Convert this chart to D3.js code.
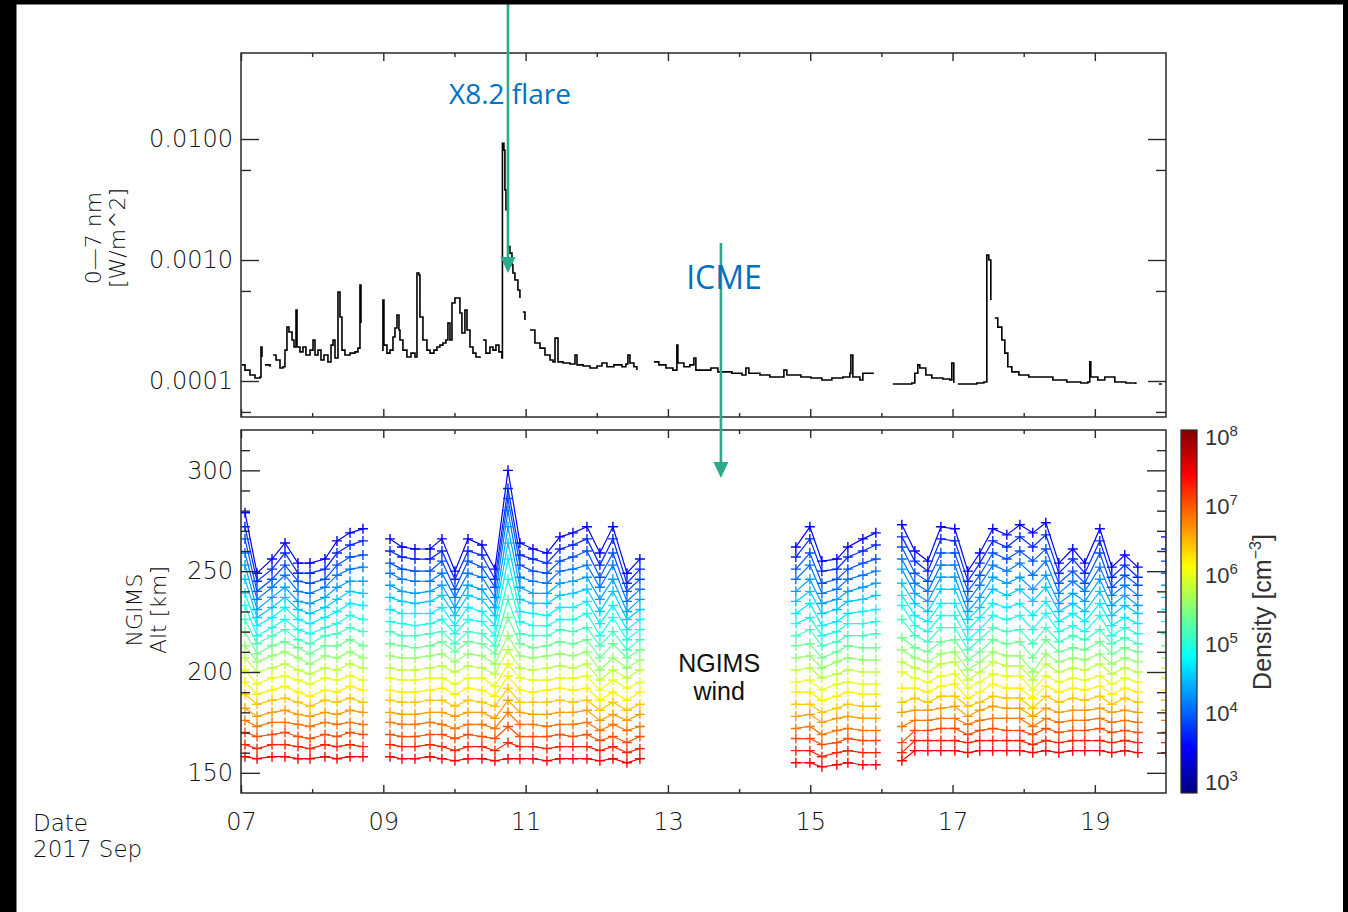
<!DOCTYPE html>
<html>
<head>
<meta charset="utf-8">
<script src="https://cdn.jsdelivr.net/npm/d3@7"></script>
<style>
body { margin: 0; background: #fff; }
svg { display: block; }
</style>
</head>
<body>
<svg id="chart"></svg>
<script>
// ---- data ----

// x axis: day of September 2017
var dayTicksMajor = [7, 9, 11, 13, 15, 17, 19];
var dayTicksMinor = [8, 10, 12, 14, 16, 18];
var dayTickLabels = ["07", "09", "11", "13", "15", "17", "19"];

// top panel: 0-7 nm irradiance (W/m^2), null = data gap
var fluxDays = [
  7.014, 7.056, 7.126, 7.197, 7.239, 7.267, 7.281, 7.295, 7.305, 7.337, 7.408, 7.425,
  7.450, 7.492, 7.548, 7.590, 7.618, 7.646, 7.674, 7.717, 7.745, 7.773, 7.787, 7.829,
  7.871, 7.913, 7.970, 8.012, 8.040, 8.082, 8.124, 8.166, 8.222, 8.265, 8.293, 8.321,
  8.363, 8.391, 8.419, 8.461, 8.532, 8.602, 8.644, 8.672, 8.686, 8.700,
  8.981, 8.995, 9.009, 9.051, 9.094, 9.136, 9.164, 9.192, 9.220, 9.234, 9.276, 9.332,
  9.389, 9.445, 9.473, 9.501, 9.515, 9.557, 9.613, 9.656, 9.712, 9.754, 9.796, 9.838,
  9.880, 9.908, 9.937, 9.965, 10.007, 10.035, 10.077, 10.105, 10.147, 10.176, 10.218,
  10.260, 10.302, 10.358, 10.372, 10.400, 10.442, 10.499, 10.541, 10.583, 10.625, 10.667,
  10.674, 10.695, 10.709, 10.724, 10.752, 10.780, 10.808, 10.822, 10.850, 10.892, 10.920,
  10.935, 10.962, 10.991, 11.005, 11.061, 11.131, 11.202, 11.272, 11.343, 11.385, 11.413,
  11.455, 11.526, 11.624, 11.694, 11.722, 11.807, 11.905, 12.003, 12.073, 12.143, 12.241,
  12.354, 12.410, 12.438, 12.466, 12.522, 12.564, 12.580,
  12.803, 12.873, 12.972, 13.070, 13.126, 13.140, 13.225, 13.309, 13.365, 13.393, 13.506,
  13.604, 13.702, 13.899, 14.040, 14.096, 14.138, 14.293, 14.433, 14.630, 14.672, 14.869,
  15.009, 15.164, 15.304, 15.459, 15.557, 15.571, 15.599, 15.698, 15.740, 15.894, 15.910,
  16.161, 16.273, 16.428, 16.470, 16.512, 16.540, 16.625, 16.709, 16.864, 16.962, 16.990,
  17.018, 17.030, 17.075, 17.173, 17.341, 17.440, 17.482, 17.510, 17.538, 17.552, 17.594,
  17.636, 17.693, 17.735, 17.777, 17.833, 17.932, 18.072, 18.227, 18.410, 18.606, 18.803,
  18.901, 18.929, 18.943, 19.042, 19.140, 19.281, 19.435, 19.576, 19.590, 19.899, 19.941
];
var fluxValues = [
  1.36e-4, 1.23e-4, 1.12e-4, 1.06e-4, 1.06e-4, 1.08e-4, 1.91e-4, 1.58e-4, null, 1.36e-4, 1.31e-4, null,
  1.64e-4, 1.49e-4, 1.28e-4, 1.31e-4, 1.80e-4, 2.79e-4, 2.54e-4, 2.18e-4, 1.91e-4, 3.86e-4, 1.91e-4, 1.74e-4,
  1.91e-4, 1.64e-4, 1.80e-4, 2.18e-4, 1.64e-4, 1.80e-4, 1.49e-4, 1.64e-4, 1.44e-4, 1.98e-4, 2.18e-4, 1.55e-4,
  5.44e-4, 3.38e-4, 1.80e-4, 1.64e-4, 1.70e-4, 1.74e-4, 1.87e-4, 6.20e-4, 3.01e-4, null,
  1.80e-4, 4.67e-4, 1.98e-4, 1.70e-4, 1.80e-4, 2.31e-4, 2.74e-4, 3.51e-4, 2.64e-4, 2.18e-4, 1.80e-4, 1.58e-4,
  1.70e-4, 1.58e-4, 7.81e-4, 7.52e-4, 3.38e-4, 2.18e-4, 1.80e-4, 1.70e-4, 1.80e-4, 1.91e-4, 1.98e-4, 2.06e-4,
  2.18e-4, 3.01e-4, 2.18e-4, 4.41e-4, 4.85e-4, 4.85e-4, 3.65e-4, 2.49e-4, 3.86e-4, 2.64e-4, 1.91e-4,
  1.70e-4, 1.58e-4, 1.55e-4, null, 2.18e-4, 1.70e-4, 1.91e-4, 1.80e-4, 1.98e-4, 1.74e-4, 1.55e-4,
  9.2e-3, 8.1e-3, 3.8e-3, 2.6e-3, 1.29e-3, 1.14e-3, 9.1e-4, 7.81e-4, 6.84e-4, 5.65e-4, 4.85e-4,
  null, 3.72e-4, 3.19e-4, null, 2.64e-4, 2.06e-4, 1.87e-4, 1.64e-4, 1.49e-4, 1.44e-4, 2.26e-4,
  1.44e-4, 1.41e-4, 1.38e-4, 1.64e-4, 1.36e-4, 1.33e-4, 1.28e-4, 1.33e-4, 1.41e-4, 1.31e-4, 1.36e-4,
  1.31e-4, 1.38e-4, 1.64e-4, 1.41e-4, 1.31e-4, 1.23e-4, null,
  1.44e-4, 1.36e-4, 1.28e-4, 1.23e-4, 1.98e-4, 1.41e-4, 1.31e-4, 1.36e-4, 1.55e-4, 1.23e-4, 1.23e-4,
  1.28e-4, 1.19e-4, 1.16e-4, 1.12e-4, 1.28e-4, 1.16e-4, 1.12e-4, 1.08e-4, 1.23e-4, 1.12e-4, 1.08e-4,
  1.06e-4, 1.02e-4, 1.06e-4, 1.08e-4, 1.16e-4, 1.64e-4, 1.08e-4, 1.02e-4, 1.16e-4, 1.16e-4, null,
  9.45e-5, 9.45e-5, 9.63e-5, 1.16e-4, 1.36e-4, 1.28e-4, 1.12e-4, 1.06e-4, 1.04e-4, 1.02e-4, 1.41e-4,
  9.63e-5, null, 9.45e-5, 9.45e-5, 9.63e-5, 9.8e-5, 1.10e-3, 1.0e-3, 4.67e-4, null, 3.32e-4,
  2.79e-4, 2.18e-4, 1.70e-4, 1.31e-4, 1.19e-4, 1.12e-4, 1.08e-4, 1.08e-4, 1.02e-4, 9.8e-5, 9.63e-5,
  9.8e-5, 1.44e-4, 1.08e-4, 1.02e-4, 1.08e-4, 9.8e-5, 9.63e-5, 9.45e-5, null, 9.45e-5, 9.45e-5
];
var fluxTicks = [0.0001, 0.001, 0.01];
var fluxTickLabels = ["0.0001", "0.0010", "0.0100"];
var fluxMinorTicks = [0.0000555, 0.000555, 0.00555];

// bottom panel: NGIMS orbits (day of Sep) and altitude (km) of each density level
var orbitDays = [
  7.056, 7.225, 7.436, 7.618, 7.801, 7.970, 8.180, 8.349, 8.532, 8.714,
  9.094, 9.262, 9.445, 9.656, 9.824, 10.007, 10.190, 10.386, 10.569, 10.752,
  10.920, 11.103, 11.300, 11.482, 11.665, 11.862, 12.044, 12.227, 12.424, 12.606,
  14.798, 14.995, 15.164, 15.374, 15.529, 15.740, 15.922,
  16.288, 16.470, 16.653, 16.836, 17.032, 17.215, 17.383, 17.566, 17.763, 17.946,
  18.128, 18.311, 18.494, 18.690, 18.859, 19.070, 19.238, 19.421, 19.604,
  20.000
];
// log10 density (cm^-3) of each contour level, top (blue) to bottom (red)
var densityLevels = [3.6, 3.8, 4.0, 4.2, 4.4, 4.6, 4.8, 5.0, 5.2, 5.4,
                     5.6, 5.8, 6.0, 6.2, 6.4, 6.6, 6.8, 7.0, 7.2, 7.4];
var altByOrbit = [
  [279,272,266,259,253,246,239,233,226,220,213,207,201,195,189,182,176,170,164,158],
  [249,245,240,236,231,227,223,218,214,209,205,200,194,189,184,178,173,168,162,157],
  [256,251,246,242,237,232,227,222,218,213,208,202,197,191,186,180,175,169,164,158],
  [264,259,253,248,242,237,232,226,221,215,210,204,198,193,187,181,175,170,164,158],
  [254,249,245,240,235,231,226,221,216,212,207,201,196,190,185,179,174,168,163,157],
  [254,249,244,239,234,229,224,219,214,209,204,199,194,188,183,178,173,167,162,157],
  [256,251,246,242,237,232,227,222,218,213,208,202,197,191,186,180,175,169,164,158],
  [265,259,253,248,242,236,230,224,219,213,207,201,196,190,185,179,174,168,163,157],
  [269,263,257,251,245,240,234,228,222,216,210,204,198,193,187,181,175,170,164,158],
  [271,265,258,252,245,239,233,226,220,213,207,202,196,191,185,180,174,169,163,158],
  [266,260,254,249,243,237,231,225,220,214,208,202,197,191,186,180,175,169,164,158],
  [262,257,251,246,240,235,229,224,218,213,207,201,196,190,185,179,174,168,163,157],
  [261,256,250,245,239,234,229,223,218,212,207,201,196,190,185,179,174,168,163,157],
  [261,256,250,245,240,235,229,224,219,213,208,202,197,191,186,180,175,169,164,158],
  [266,260,255,249,243,238,232,226,220,215,209,203,197,192,186,180,174,169,163,157],
  [250,246,241,237,232,228,223,219,214,210,205,200,194,189,183,178,172,167,161,156],
  [266,260,255,249,243,238,232,226,220,215,209,203,197,192,186,180,174,169,163,157],
  [263,258,252,247,241,236,230,225,219,214,208,202,197,191,185,180,174,168,163,157],
  [251,246,242,237,232,228,223,218,213,209,204,199,193,188,183,177,172,167,161,156],
  [300,291,286,280,272,264,256,246,236,227,218,211,204,198,192,186,180,173,165,157],
  [264,258,253,247,242,236,230,225,219,214,208,202,197,191,185,180,174,168,163,157],
  [261,256,250,245,239,234,229,223,218,212,207,201,196,190,185,179,174,168,163,157],
  [259,254,249,244,239,234,228,223,218,213,208,202,196,191,185,179,173,168,162,156],
  [267,261,255,250,244,238,232,226,221,215,209,203,197,192,186,180,174,169,163,157],
  [269,263,257,251,245,239,232,226,220,214,208,202,197,191,185,180,174,168,163,157],
  [272,266,260,253,247,241,235,229,222,216,210,204,198,192,186,181,175,169,163,157],
  [259,253,247,242,236,230,224,218,213,207,201,196,191,186,181,176,171,166,161,156],
  [272,266,259,253,246,240,233,227,220,214,207,201,196,190,185,179,174,168,163,157],
  [249,244,240,235,230,226,221,216,211,207,202,197,192,186,181,176,171,165,160,155],
  [256,251,246,241,236,231,226,221,216,211,206,201,195,190,184,179,173,168,162,157],
  [262,257,251,246,240,235,229,224,218,213,207,201,195,190,184,178,172,167,161,155],
  [272,266,259,253,246,240,234,227,221,214,208,202,196,190,184,179,173,167,161,155],
  [255,250,244,239,234,229,223,218,213,207,202,197,191,186,180,175,169,164,158,153],
  [256,251,246,241,236,231,225,220,215,210,205,199,194,188,182,177,171,165,160,154],
  [262,257,251,246,240,235,229,224,218,213,207,201,195,190,184,178,172,167,161,155],
  [266,260,254,248,242,236,230,224,218,212,206,200,194,189,183,177,171,166,160,154],
  [269,263,256,250,244,238,231,225,219,212,206,200,194,189,183,177,171,166,160,154],
  [273,267,262,256,251,244,238,233,226,217,211,205,200,192,185,180,173,165,160,156],
  [260,255,249,244,239,234,228,223,218,212,207,202,197,192,187,181,176,171,166,161],
  [255,250,245,240,235,230,225,220,215,210,205,200,195,190,185,181,176,171,166,161],
  [272,266,259,253,247,241,234,228,222,215,209,204,198,193,188,182,177,172,166,161],
  [271,265,259,253,247,241,234,228,222,216,210,205,199,194,188,183,177,172,166,161],
  [250,245,240,235,230,226,221,216,211,206,201,196,192,187,183,178,174,169,165,160],
  [259,254,248,243,237,232,227,221,216,210,205,200,195,190,185,181,176,171,166,161],
  [271,265,259,253,247,241,234,228,222,216,210,205,199,194,188,183,177,172,166,161],
  [268,262,256,250,244,238,232,226,220,214,208,203,198,192,187,182,177,171,166,161],
  [273,267,260,254,247,241,234,228,221,215,208,203,198,192,187,182,177,171,166,161],
  [269,262,255,248,241,235,228,221,214,207,200,196,191,187,182,178,173,169,164,160],
  [274,268,261,255,248,242,235,229,222,216,209,204,198,193,188,182,177,172,166,161],
  [254,249,244,239,234,230,225,220,215,210,205,200,195,190,185,180,175,170,165,160],
  [261,256,250,245,239,234,229,223,218,212,207,202,197,192,187,181,176,171,166,161],
  [254,249,244,240,235,230,225,220,216,211,206,201,196,191,186,181,176,171,166,161],
  [271,265,259,252,246,240,234,228,221,215,209,204,198,193,188,182,177,172,166,161],
  [252,247,242,238,233,228,223,218,214,209,204,199,194,189,184,180,175,170,165,160],
  [258,253,248,243,238,233,227,222,217,212,207,202,197,192,187,181,176,171,166,161],
  [252,247,243,238,233,229,224,219,214,210,205,200,195,190,185,180,175,170,165,160],
  [267,261,255,249,243,237,231,225,219,213,207,202,197,191,186,181,176,170,165,160]
];
var altTicks = [150, 200, 250, 300];
var altMinorTicks = [160, 170, 180, 190, 210, 220, 230, 240, 260, 270, 280, 290, 310];

// colour bar: log10 density
var densityTicks = [3, 4, 5, 6, 7, 8];
var jetDomain = [3, 3.625, 4.875, 6.125, 7.375, 8];
var jetColors = ["#000080", "#0000ff", "#00ffff", "#ffff00", "#ff0000", "#800000"];

// annotations
var flareDay = 10.752, icmeDay = 13.745;

// ---- layout ----
var W = 1348, H = 912;
var left = 241, right = 1166;
var top1 = 53, bot1 = 417, top2 = 430, bot2 = 793;
var axisFont = "'DejaVu Sans', sans-serif";
var ink = "#2a2a2a", textInk = "#111";

var svg = d3.select("#chart").attr("width", W).attr("height", H);
svg.append("rect").attr("width", W).attr("height", H).attr("fill", "#fff");

var x = d3.scaleLinear().domain([7, 20]).range([left, right]);
var yFlux = d3.scaleLog().domain([5.04e-5, 0.0514]).range([bot1, top1]);
var yAlt = d3.scaleLinear().domain([140, 320]).range([bot2, top2]);
var jet = d3.scaleLinear().domain(jetDomain).range(jetColors).clamp(true);

var defs = svg.append("defs");
defs.append("clipPath").attr("id", "clip1").append("rect")
  .attr("x", left).attr("y", top1).attr("width", right - left).attr("height", bot1 - top1);
defs.append("clipPath").attr("id", "clip2").append("rect")
  .attr("x", left).attr("y", top2).attr("width", right - left).attr("height", bot2 - top2);

function ticks(gen, scale, values, size, tx, ty) {
  var g = svg.append("g").attr("transform", "translate(" + tx + "," + ty + ")")
    .call(gen(scale).tickValues(values).tickSize(size).tickFormat(""));
  g.select(".domain").remove();
  g.selectAll("line").attr("stroke", ink).attr("stroke-width", 1.4);
}

function frame(y0, y1) {
  svg.append("rect").attr("x", left).attr("y", y0)
    .attr("width", right - left).attr("height", y1 - y0)
    .attr("fill", "none").attr("stroke", ink).attr("stroke-width", 1.5);
}

function styleText(sel, size) {
  sel.attr("font-family", axisFont).attr("font-size", size)
    .attr("font-weight", 300).attr("fill", textInk);
}

// ---- top panel ----
var fluxData = fluxDays.map(function(d, i) { return [d, fluxValues[i]]; });
svg.append("path")
  .datum(fluxData)
  .attr("clip-path", "url(#clip1)")
  .attr("fill", "none")
  .attr("stroke", "#000")
  .attr("stroke-width", 1.6)
  .attr("d", d3.line()
    .defined(function(d) { return d[1] != null; })
    .x(function(d) { return x(d[0]); })
    .y(function(d) { return yFlux(d[1]); })
    .curve(d3.curveStepAfter));

frame(top1, bot1);
[[top1, bot1], [top2, bot2]].forEach(function(p) {
  ticks(d3.axisTop, x, dayTicksMajor, 8, 0, p[1]);
  ticks(d3.axisTop, x, dayTicksMinor, 4, 0, p[1]);
  ticks(d3.axisBottom, x, dayTicksMajor, 8, 0, p[0]);
  ticks(d3.axisBottom, x, dayTicksMinor, 4, 0, p[0]);
});
ticks(d3.axisRight, yFlux, fluxTicks, 18, left, 0);
ticks(d3.axisRight, yFlux, fluxMinorTicks, 10, left, 0);
ticks(d3.axisLeft, yFlux, fluxTicks, 18, right, 0);
ticks(d3.axisLeft, yFlux, fluxMinorTicks, 10, right, 0);

var fluxLab = svg.append("g").attr("transform", "translate(" + left + ",0)")
  .call(d3.axisLeft(yFlux).tickValues(fluxTicks).tickSize(0).tickPadding(8)
    .tickFormat(function(d, i) { return fluxTickLabels[i]; }));
fluxLab.select(".domain").remove();
styleText(fluxLab.selectAll("text"), 24);

var t1 = svg.append("text").attr("transform", "translate(101,238) rotate(-90)")
  .attr("text-anchor", "middle");
styleText(t1, 22);
t1.append("tspan").attr("x", 0).attr("y", 0).text("0\u20147 nm");
t1.append("tspan").attr("x", 0).attr("y", 24).text("[W/m^2]");

// ---- bottom panel ----
var groups = [];
orbitDays.forEach(function(d, k) {
  if (k === 0 || d - orbitDays[k - 1] > 0.3) groups.push([]);
  groups[groups.length - 1].push(k);
});

var plot2 = svg.append("g").attr("clip-path", "url(#clip2)");
var altLine = d3.line()
  .x(function(k) { return x(orbitDays[k]); });

densityLevels.forEach(function(lev, i) {
  var col = jet(lev);
  var g = plot2.append("g").attr("stroke", col).attr("fill", "none");
  groups.forEach(function(grp) {
    g.append("path")
      .attr("stroke-width", 1.2)
      .attr("d", altLine.y(function(k) { return yAlt(altByOrbit[k][i]); })(grp));
  });
  g.selectAll("path.mk")
    .data(orbitDays.map(function(d, k) { return [d, altByOrbit[k][i]]; }))
    .enter().append("path")
    .attr("class", "mk")
    .attr("stroke-width", 1.4)
    .attr("d", function(d) {
      var px = x(d[0]), py = yAlt(d[1]);
      return "M" + (px - 5) + "," + py + "H" + (px + 5) + "M" + px + "," + (py - 5) + "V" + (py + 5);
    });
});

frame(top2, bot2);
ticks(d3.axisRight, yAlt, altTicks, 19, left, 0);
ticks(d3.axisRight, yAlt, altMinorTicks, 9, left, 0);
ticks(d3.axisLeft, yAlt, altTicks, 19, right, 0);
ticks(d3.axisLeft, yAlt, altMinorTicks, 9, right, 0);

var altLab = svg.append("g").attr("transform", "translate(" + left + ",0)")
  .call(d3.axisLeft(yAlt).tickValues(altTicks).tickSize(0).tickPadding(8));
altLab.select(".domain").remove();
styleText(altLab.selectAll("text"), 24);

var t2 = svg.append("text").attr("transform", "translate(142,610) rotate(-90)")
  .attr("text-anchor", "middle");
styleText(t2, 22);
t2.append("tspan").attr("x", 0).attr("y", 0).text("NGIMS");
t2.append("tspan").attr("x", 0).attr("y", 24).text("Alt [km]");

var dayLab = svg.append("g").attr("transform", "translate(0," + bot2 + ")")
  .call(d3.axisBottom(x).tickValues(dayTicksMajor).tickSize(0).tickPadding(20)
    .tickFormat(function(d, i) { return dayTickLabels[i]; }));
dayLab.select(".domain").remove();
styleText(dayLab.selectAll("text"), 24);

styleText(svg.append("text").attr("x", 33).attr("y", 831).text("Date"), 23);
styleText(svg.append("text").attr("x", 33).attr("y", 857).text("2017 Sep"), 23);

svg.append("text").attr("x", x(13.72)).attr("text-anchor", "middle")
  .attr("font-family", "'Liberation Sans', Arial, sans-serif").attr("font-size", 25).attr("fill", "#111")
  .selectAll("tspan").data(["NGIMS", "wind"]).enter().append("tspan")
  .attr("x", x(13.72)).attr("y", function(d, i) { return 672 + i * 28; })
  .text(function(d) { return d; });

// ---- colour bar ----
var cbX = 1181, cbW = 16;
var yCb = d3.scaleLinear().domain([3, 8]).range([bot2, top2]);
var yCbLab = d3.scaleLinear().domain([3, 8]).range([782, 437]);
var grad = defs.append("linearGradient").attr("id", "jetgrad")
  .attr("x1", 0).attr("y1", 1).attr("x2", 0).attr("y2", 0);
jetDomain.forEach(function(v, i) {
  grad.append("stop").attr("offset", (v - 3) / 5).attr("stop-color", jetColors[i]);
});
svg.append("rect").attr("x", cbX).attr("y", yCb(8)).attr("width", cbW)
  .attr("height", yCb(3) - yCb(8)).attr("fill", "url(#jetgrad)")
  .attr("stroke", ink).attr("stroke-width", 1.2);

var cbFont = "'Liberation Sans', sans-serif";
densityTicks.forEach(function(v) {
  var t = svg.append("text").attr("x", 1205).attr("y", yCbLab(v) + 8)
    .attr("font-family", cbFont).attr("font-size", 22).attr("fill", "#333");
  t.append("tspan").text("10");
  t.append("tspan").attr("dy", -9).attr("font-size", 15).text(v);
});

var t3 = svg.append("text").attr("transform", "translate(1271,612) rotate(-90)")
  .attr("text-anchor", "middle").attr("font-family", "'Liberation Sans', sans-serif")
  .attr("font-size", 25).attr("fill", "#333");
t3.append("tspan").text("Density  [cm");
t3.append("tspan").attr("dy", -10).attr("font-size", 16).text("\u22123");
t3.append("tspan").attr("dy", 10).text("]");

// ---- annotations ----
var teal = "#2aa98b", blue = "#0070c0";
function arrow(day, y0, tipY) {
  var ax = x(day);
  svg.append("line").attr("x1", ax).attr("x2", ax).attr("y1", y0).attr("y2", tipY - 10)
    .attr("stroke", teal).attr("stroke-width", 2.6);
  svg.append("path").attr("fill", teal)
    .attr("d", "M" + (ax - 7.5) + "," + (tipY - 16) + "L" + (ax + 7.5) + "," + (tipY - 16) + "L" + ax + "," + tipY + "Z");
}
arrow(flareDay, 0, 273);
arrow(icmeDay, 243, 478);

svg.append("text").attr("x", 510).attr("y", 104).attr("text-anchor", "middle")
  .attr("font-family", "'Open Sans', sans-serif").attr("font-size", 28).attr("fill", blue)
  .text("X8.2 flare");
svg.append("text").attr("x", 724).attr("y", 289).attr("text-anchor", "middle")
  .attr("font-family", "'Open Sans', sans-serif").attr("font-size", 32).attr("fill", blue)
  .text("ICME");

// black slide border
svg.append("rect").attr("x", 0).attr("y", 0).attr("width", W).attr("height", 4.5).attr("fill", "#000");
svg.append("rect").attr("x", 0).attr("y", 0).attr("width", 16.5).attr("height", H).attr("fill", "#000");
svg.append("rect").attr("x", W - 5).attr("y", 0).attr("width", 5).attr("height", H).attr("fill", "#000");
</script>
</body>
</html>
